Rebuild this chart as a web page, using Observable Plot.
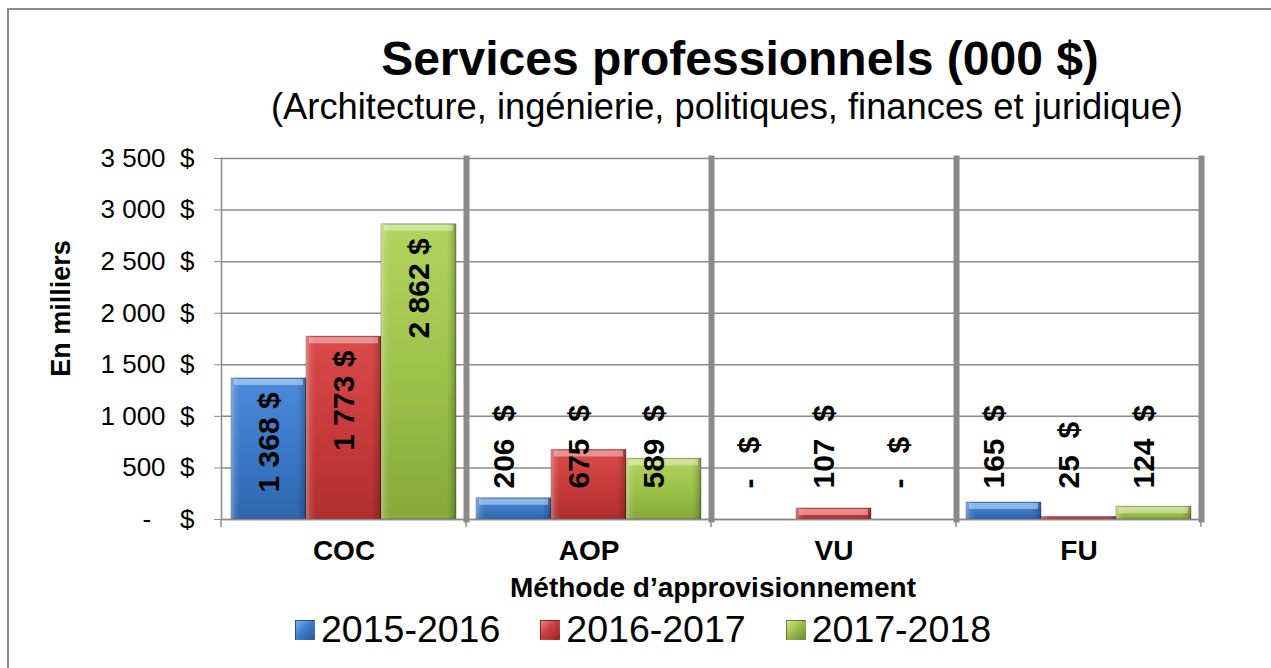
<!DOCTYPE html>
<html>
<head>
<meta charset="utf-8">
<script src="https://cdn.jsdelivr.net/npm/d3@7"></script>
<script src="https://cdn.jsdelivr.net/npm/@observablehq/plot@0.6"></script>
<style>
  html, body { margin: 0; padding: 0; background: #fff; }
  body { font-family: "Liberation Sans", Arial, sans-serif; color: #000; }
  #wrap { position: relative; width: 1271px; height: 668px; overflow: hidden; background: #fff; }
  #border { position: absolute; left: 7px; top: 8px; width: 1400px; height: 800px;
            border-left: 2px solid #8a8a8a; border-top: 2px solid #8a8a8a; }
  .title { position: absolute; left: 240px; width: 1000px; top: 35px; text-align: center;
           font-size: 48px; line-height: 48px; font-weight: bold; white-space: nowrap; }
  .subtitle { position: absolute; left: 227px; width: 1000px; top: 89px; text-align: center;
              font-size: 36.3px; line-height: 36px; white-space: nowrap; }
  #chart { position: absolute; left: 0; top: 130px; }
  .ylabel { position: absolute; left: -89px; top: 295px; width: 300px; text-align: center;
            font-size: 27px; line-height: 27px; font-weight: bold; transform: rotate(-90deg); white-space: nowrap; }
  .xlabel { position: absolute; left: 413px; width: 600px; top: 574px; text-align: center;
            font-size: 28px; line-height: 28px; font-weight: bold; white-space: nowrap; }
  #legend { position: absolute; left: 295px; top: 611px; display: flex; gap: 40px; align-items: flex-start; }
  .item { display: flex; align-items: flex-start; font-size: 37.5px; line-height: 37px; white-space: nowrap; }
  .sw { width: 20px; height: 20px; margin-top: 9px; margin-right: 6px; box-sizing: border-box; }
</style>
</head>
<body>
<div id="wrap">
  <div id="border"></div>
  <div class="title">Services professionnels (000 $)</div>
  <div class="subtitle">(Architecture, ingénierie, politiques, finances et juridique)</div>
  <div id="chart"></div>
  <div class="ylabel">En milliers</div>
  <div class="xlabel">Méthode d’approvisionnement</div>
  <div id="legend"></div>
</div>
<script>
// ---- data ----
const categories = ["COC", "AOP", "VU", "FU"];
const years = ["2015-2016", "2016-2017", "2017-2018"];
const values2015_2016 = [1368, 206, 0, 165];
const values2016_2017 = [1773, 675, 107, 25];
const values2017_2018 = [2862, 589, 0, 124];
const yTicks = [0, 500, 1000, 1500, 2000, 2500, 3000, 3500];

// ---- styles ----
const gradIds = ["gB", "gR", "gG"];
const gradStops = [
  ["#4b8bd9", "#3c79c8", "#2f65ad"],
  ["#da4b4b", "#c93b3b", "#b02e2e"],
  ["#b2d45f", "#9dc24a", "#86a93b"]
];
const swatchCss = [
  "linear-gradient(135deg, #7fb0ec 0%, #3f7fcf 45%, #2a5a9a 100%)",
  "linear-gradient(135deg, #e88080 0%, #cc3d3d 45%, #962626 100%)",
  "linear-gradient(135deg, #cfe68f 0%, #9cc24a 45%, #6f8c2f 100%)"
];

const seriesValues = [values2015_2016, values2016_2017, values2017_2018];
const data = years.flatMap((yr, i) => categories.map((c, j) => ({cat: c, year: yr, value: seriesValues[i][j]})));

const fmtNum = v => d3.format(",")(v).replace(/,/g, "\u00a0");
const tickFmt = v => v === 0 ? "-\u00a0\u00a0\u00a0\u00a0$" : fmtNum(v) + "\u00a0\u00a0$";
const bigLabel = d => fmtNum(d.value) + "\u00a0$";
const smallLabel = d => d.value === 0 ? "-\u00a0\u00a0\u00a0$" : fmtNum(d.value) + "\u00a0\u00a0$";

const chart = Plot.plot({
  width: 1271,
  height: 440,
  marginTop: 28,
  marginBottom: 51,
  marginLeft: 220,
  marginRight: 69,
  style: {fontFamily: "'Liberation Sans', Arial, sans-serif", background: "transparent", color: "#000", overflow: "visible"},
  fx: {domain: categories, padding: 0, label: null},
  x: {domain: years, paddingInner: 0, paddingOuter: 0.13, axis: null},
  y: {domain: [0, 3500], label: null},
  color: {domain: years, range: gradIds.map(id => `url(#${id})`)},
  marks: [
    Plot.gridY(yTicks, {stroke: "#8a8a8a", strokeOpacity: 1, strokeWidth: 1.5}),
    Plot.barY(data, {fx: "cat", x: "year", y: "value", fill: "year", stroke: "rgba(0,0,0,0.28)", strokeWidth: 1}),
    Plot.barY(data, {fx: "cat", x: "year", y: "value", fill: "url(#shade)"}),
    Plot.tickY(data.filter(d => d.value > 50), {fx: "cat", x: "year", y: "value", stroke: "rgba(255,255,255,0.4)", strokeWidth: 6, dy: 3.5, insetLeft: 3, insetRight: 3}),
    Plot.ruleY([0], {stroke: "#8a8a8a", strokeWidth: 1.5}),
    Plot.frame({anchor: "left", stroke: "#8a8a8a", strokeWidth: 1.5}),
    Plot.frame({anchor: "right", stroke: "#8a8a8a", strokeWidth: 6}),
    Plot.axisY({ticks: yTicks, tickFormat: tickFmt, tickSize: 7, tickPadding: 20, fontSize: 26, label: null, stroke: "#8a8a8a"}),
    Plot.axisFx({anchor: "bottom", tickSize: 0, tickPadding: 21, fontSize: 28, fontWeight: "bold", label: null}),
    Plot.text(data.filter(d => d.value >= 1000), {fx: "cat", x: "year", y: "value", text: bigLabel, rotate: -90, textAnchor: "end", dy: 14, fontSize: 30, fontWeight: "bold", fill: "#000"}),
    Plot.text(data.filter(d => d.value < 1000), {fx: "cat", x: "year", frameAnchor: "bottom", text: smallLabel, rotate: -90, textAnchor: "start", dy: -31, fontSize: 30, fontWeight: "bold", fill: "#000"})
  ]
});

// gradients
const svg = d3.select(chart);
const defs = svg.insert("defs", ":first-child");
gradIds.forEach((id, i) => {
  const g = defs.append("linearGradient").attr("id", id).attr("x1", 0).attr("y1", 0).attr("x2", 0).attr("y2", 1);
  g.append("stop").attr("offset", "0%").attr("stop-color", gradStops[i][0]);
  g.append("stop").attr("offset", "50%").attr("stop-color", gradStops[i][1]);
  g.append("stop").attr("offset", "100%").attr("stop-color", gradStops[i][2]);
});
const sh = defs.append("linearGradient").attr("id", "shade").attr("x1", 0).attr("y1", 0).attr("x2", 1).attr("y2", 0);
[[0, "#fff", 0.35], [0.05, "#fff", 0.12], [0.12, "#fff", 0], [0.88, "#000", 0], [0.95, "#000", 0.12], [1, "#000", 0.3]]
  .forEach(([o, c, a]) => sh.append("stop").attr("offset", o).attr("stop-color", c).attr("stop-opacity", a));

// small ticks below baseline at category boundaries (from the library's scales)
const fxS = chart.scale("fx"), yS = chart.scale("y");
const y0 = yS.apply(0);
const bounds = categories.map(c => fxS.apply(c)).concat([fxS.apply(categories[categories.length - 1]) + fxS.bandwidth]);
svg.append("g").selectAll("line").data(bounds).join("line")
  .attr("x1", d => d).attr("x2", d => d).attr("y1", y0).attr("y2", y0 + 8)
  .attr("stroke", "#8a8a8a").attr("stroke-width", 1.5);

document.getElementById("chart").appendChild(chart);

// legend
const legend = d3.select("#legend");
years.forEach((yr, i) => {
  const it = legend.append("div").attr("class", "item");
  it.append("div").attr("class", "sw").style("background", swatchCss[i]).style("border", "1px solid rgba(0,0,0,0.25)");
  it.append("span").text(yr);
});
</script>
</body>
</html>
